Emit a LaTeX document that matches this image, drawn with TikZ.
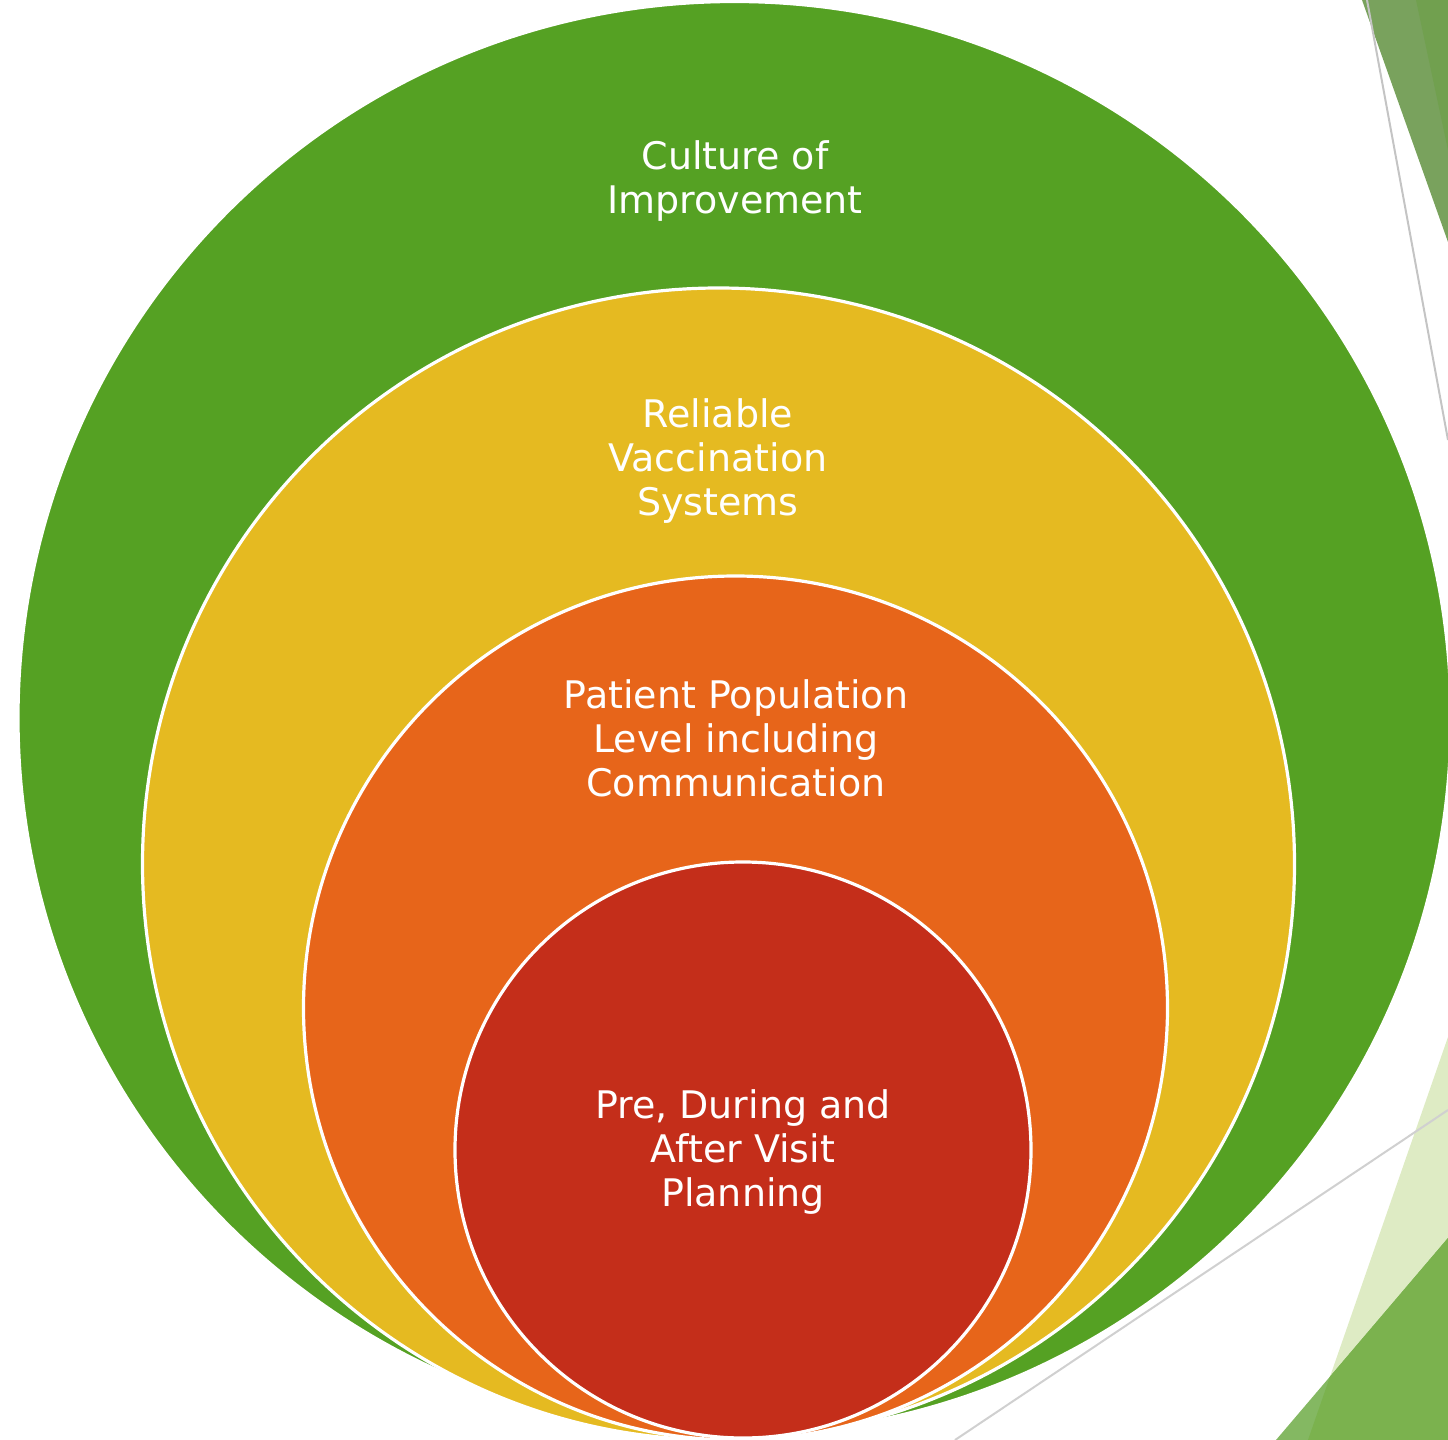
\documentclass[tikz,border=0pt]{standalone}
\usepackage{fontspec}
\setmainfont{DejaVu Sans}
\usetikzlibrary{positioning}
\definecolor{ringgreen}{HTML}{55A123}
\definecolor{ringyellow}{HTML}{E5BA21}
\definecolor{ringorange}{HTML}{E7651A}
\definecolor{ringred}{HTML}{C42E1A}
\definecolor{leafdark}{HTML}{79A25D}
\definecolor{leafdeep}{HTML}{71A04F}
\definecolor{leafpale}{HTML}{DEEBC4}
\definecolor{leafmid}{HTML}{84B862}
\definecolor{leafmidin}{HTML}{7BB24E}
\definecolor{rulegrey}{HTML}{C4C4C4}

\tikzset{
  ring/.style={circle, draw=white, line width=1.6pt, inner sep=0pt, outer sep=0pt},
  ringtext/.style={text=white, align=center, font=\fontsize{19}{22}\selectfont},
}

\begin{document}
\begin{tikzpicture}[x=0.5pt, y=-0.5pt]
\useasboundingbox (0,0) rectangle (1448,1440);
\clip (0,0) rectangle (1448,1440);

% corner shapes
\fill[leafdark] (1362,0) -- (1448,242) -- (1448,0) -- cycle;
\fill[leafdeep] (1416,0) -- (1448,150) -- (1448,0) -- cycle;
\draw[rulegrey, line width=1pt] (1367,0) -- (1448,440);

\fill[leafpale] (1448,1037) -- (1308,1440) -- (1448,1440) -- cycle;
\fill[leafmid] (1448,1238) -- (1276,1440) -- (1448,1440) -- cycle;
\begin{scope}
  \clip (1448,1037) -- (1308,1440) -- (1448,1440) -- cycle;
  \fill[leafmidin] (1448,1238) -- (1276,1440) -- (1448,1440) -- cycle;
\end{scope}
\draw[rulegrey!80, line width=1pt] (955,1440) -- (1448,1110);

% nested rings
\node[ring, fill=ringgreen, minimum size=716.5pt] (culture) at (734.5,718) {};
\node[ring, fill=ringyellow, minimum size=576pt] (systems) at (718.5,864) {};
\node[ring, fill=ringorange, minimum size=432pt] (population) at (735.5,1008) {};
\node[ring, fill=ringred, minimum size=288pt] (visit) at (743,1150) {};

\node[ringtext] (culturetext) at (735,181) {Culture of\\Improvement};
\node[ringtext] (systemstext) at (718,461) {Reliable\\Vaccination\\Systems};
\node[ringtext] (populationtext) at (736,738) {Patient Population\\Level including\\Communication};
\node[ringtext] (visittext) at (743,1152) {Pre, During and\\After Visit\\Planning};
\end{tikzpicture}
\end{document}
